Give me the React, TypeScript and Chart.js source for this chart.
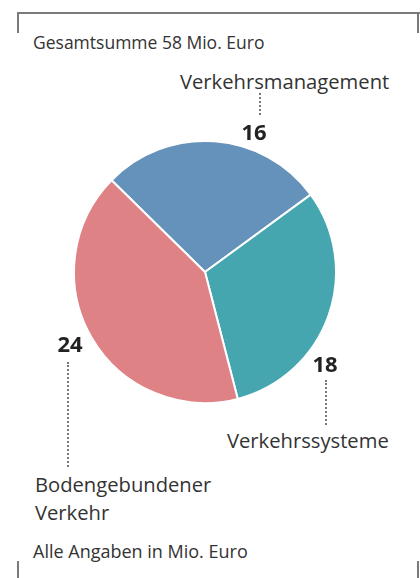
import React, { useEffect, useRef } from "react";
import { Chart, registerables } from "chart.js";

Chart.register(...registerables);

const categories = ["Verkehrsmanagement", "Verkehrssysteme", "Bodengebundener Verkehr"];
const values = [16, 18, 24];
const sliceColors = ["#6592bb", "#45a6af", "#de8286"];
const titleText = "Gesamtsumme 58 Mio. Euro";
const footerText = "Alle Angaben in Mio. Euro";

const FONT = "'Open Sans', 'Noto Sans', sans-serif";
const TEXT = "#333333";
const FRAME = "#7a7a7a";

// layout for each label (same order as categories)
const labelLayout = [
  { nameLeft: 180, nameTop: 71, nameWidth: 240, numCenter: 254, numTop: 121, lineX: 260, lineTop: 93, lineBottom: 115 },
  { nameLeft: 227, nameTop: 430, nameWidth: 190, numCenter: 325, numTop: 353, lineX: 326, lineTop: 380, lineBottom: 425 },
  { nameLeft: 35, nameTop: 474, nameWidth: 190, numCenter: 70, numTop: 333, lineX: 68, lineTop: 362, lineBottom: 467 },
];

export default function App() {
  const canvasRef = useRef<HTMLCanvasElement | null>(null);

  useEffect(() => {
    if (!canvasRef.current) return;
    const chart = new Chart(canvasRef.current, {
      type: "pie",
      data: {
        labels: categories,
        datasets: [
          {
            data: values,
            backgroundColor: sliceColors,
            borderColor: "#ffffff",
            borderWidth: 2,
          },
        ],
      },
      options: {
        responsive: false,
        animation: false,
        rotation: -45.5,
        layout: { padding: 0 },
        plugins: {
          legend: { display: false },
          tooltip: { enabled: false },
          title: { display: false },
        },
      },
    });
    return () => chart.destroy();
  }, []);

  const abs = (s: React.CSSProperties): React.CSSProperties => ({ position: "absolute", ...s });

  return (
    <div
      style={{
        position: "absolute",
        left: 0,
        top: 0,
        width: 420,
        height: 578,
        overflow: "hidden",
        background: "#ffffff",
        fontFamily: FONT,
        color: TEXT,
      }}
    >
      {/* frame */}
      <div style={abs({ left: 17, top: 12, width: 403, height: 2, background: FRAME })} />
      <div style={abs({ left: 17, top: 12, width: 2, height: 21, background: FRAME })} />
      <div style={abs({ left: 417, top: 12, width: 2, height: 21, background: FRAME })} />
      <div style={abs({ left: 17, top: 561, width: 2, height: 17, background: FRAME })} />
      <div style={abs({ left: 417, top: 561, width: 2, height: 17, background: FRAME })} />

      <div style={abs({ left: 33, top: 32, fontSize: 17.5, lineHeight: "20px", whiteSpace: "nowrap" })}>{titleText}</div>
      <div style={abs({ left: 33, top: 542, fontSize: 18, lineHeight: "18px", whiteSpace: "nowrap" })}>{footerText}</div>

      <canvas ref={canvasRef} width={264} height={264} style={abs({ left: 73, top: 140, width: 264, height: 264 })} />

      {categories.map((name, i) => {
        const l = labelLayout[i];
        return (
          <React.Fragment key={name}>
            <div
              style={abs({
                left: l.nameLeft,
                top: l.nameTop,
                width: l.nameWidth,
                fontSize: 20.2,
                lineHeight: "28px",
                marginTop: -4,
              })}
            >
              {name}
            </div>
            <div
              style={abs({
                left: l.numCenter - 40,
                top: l.numTop,
                width: 80,
                textAlign: "center",
                fontSize: 22,
                fontWeight: 700,
                lineHeight: "20px",
                color: "#222222",
              })}
            >
              {values[i]}
            </div>
            <div
              style={abs({
                left: l.lineX - 1,
                top: l.lineTop,
                width: 0,
                height: l.lineBottom - l.lineTop,
                borderLeft: "2px dotted #777777",
              })}
            />
          </React.Fragment>
        );
      })}
    </div>
  );
}
